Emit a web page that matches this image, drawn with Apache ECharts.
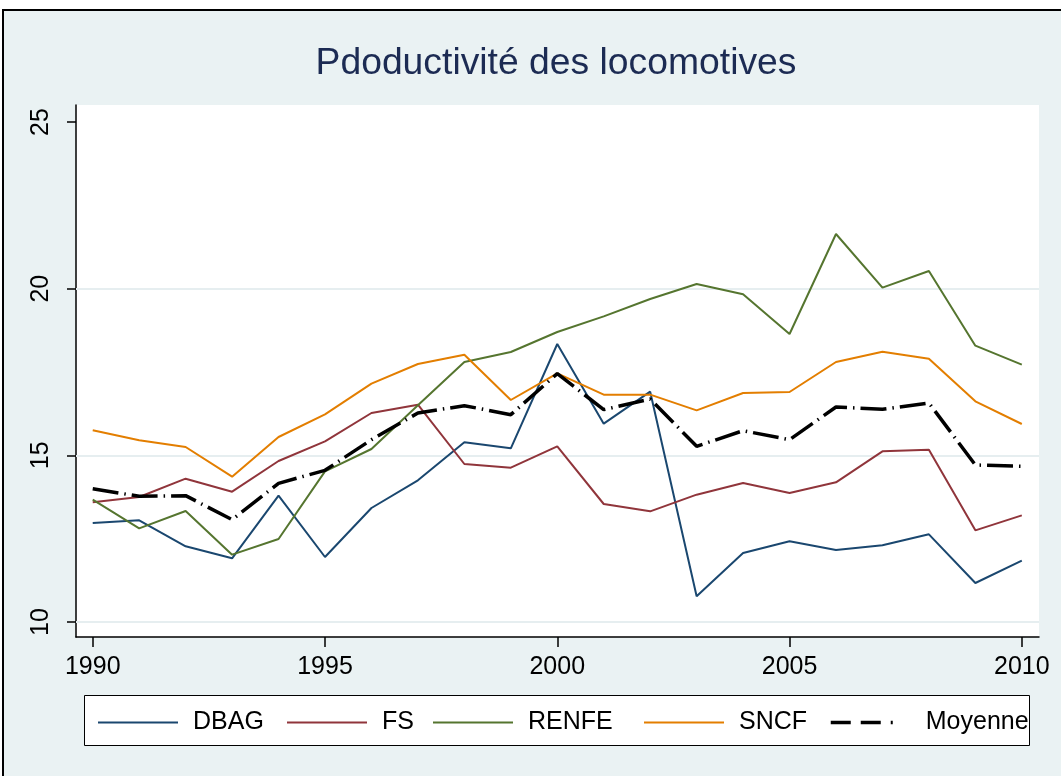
<!DOCTYPE html>
<html>
<head>
<meta charset="utf-8">
<script src="https://cdn.jsdelivr.net/npm/echarts@6/dist/echarts.min.js"></script>
<style>
html,body{margin:0;padding:0;background:#fff;}
#chart{width:1061px;height:776px;}
</style>
</head>
<body>
<div id="chart"></div>
<script>
var years = [1990,1991,1992,1993,1994,1995,1996,1997,1998,1999,2000,2001,2002,2003,2004,2005,2006,2007,2008,2009,2010];
var dbag    = [12.97,13.05,12.27,11.91,13.79,11.95,13.42,14.25,15.39,15.21,18.34,15.95,16.91,10.77,12.07,12.42,12.16,12.30,12.63,11.17,11.84];
var fs      = [13.59,13.75,14.30,13.91,14.83,15.42,16.27,16.52,14.74,14.63,15.27,13.54,13.32,13.82,14.17,13.87,14.19,15.12,15.17,12.75,13.20];
var renfe   = [13.67,12.81,13.33,12.02,12.49,14.52,15.19,16.50,17.80,18.10,18.70,19.17,19.69,20.14,19.83,18.64,21.64,20.03,20.53,18.29,17.72];
var sncf    = [15.75,15.45,15.25,14.36,15.55,16.23,17.15,17.74,18.02,16.66,17.46,16.82,16.82,16.35,16.87,16.90,17.80,18.11,17.90,16.62,15.94];
var moyenne = [14.00,13.77,13.79,13.07,14.16,14.55,15.47,16.27,16.49,16.22,17.45,16.37,16.69,15.27,15.74,15.47,16.45,16.38,16.57,14.71,14.67];
var yTicks = [10,15,20,25];
var xTicks = [1990,1995,2000,2005,2010];
var gridVals = [10,15,20];

var names  = ['DBAG','FS','RENFE','SNCF','Moyenne'];
var colors = ['#1a476f','#90353b','#55752f','#e37e00','#000000'];
var values = [dbag,fs,renfe,sncf,moyenne];
var legendLeft = [97,286,432,643,829];

function pairs(v){
	var out=[];
	for(var i=0;i<years.length;i++){
		out.push([years[i],v[i]]);
	}
	return out;
}

var font = '"Liberation Sans", Arial, Helvetica, sans-serif';
var series = [];
var legends = [];
for(var k=0;k<names.length;k++){
	var isAvg = names[k]=='Moyenne';
	var s = {
		name: names[k],
		type: 'line',
		data: pairs(values[k]),
		showSymbol: false,
		symbol: 'none',
		silent: true,
		z: isAvg ? 5 : 3,
		lineStyle: {
			color: colors[k],
			width: isAvg ? 3.5 : 2,
			type: isAvg ? [26,6,1.5,6] : 'solid',
			cap: 'butt'
		},
		itemStyle: {color: colors[k]}
	};
	if(k==0){
		// lignes de grille
		s.markLine = {
			silent: true,
			symbol: 'none',
			label: {show:false},
			lineStyle: {color:'#e6eef0', width:2, type:'solid'},
			data: gridVals.map(function(v){return {yAxis:v};}),
			z: 1
		};
	}
	series.push(s);
	legends.push({
		show: true,
		data: [names[k]],
		left: legendLeft[k],
		top: 710,
		itemWidth: 80,
		itemHeight: 14,
		itemGap: 0,
		padding: 0,
		itemStyle: {opacity: 0},
		lineStyle: isAvg ? {type:[20,10,20,10,2,18], width:3.5, cap:'butt'} : {width:2},
		textStyle: {fontFamily: font, fontSize: 25, color: '#000', padding:[0,0,0,10]},
		selectedMode: false
	});
}

var chart = echarts.init(document.getElementById('chart'));
var option = {
	animation: false,
	backgroundColor: '#ffffff',
	graphic: [
		{type:'rect', z:-10, shape:{x:3,y:10,width:1080,height:790}, style:{fill:'#eaf2f3', stroke:'#000', lineWidth:2}},
		{type:'rect', z:-5, shape:{x:84.5,y:695.5,width:945,height:50}, style:{fill:'#ffffff', stroke:'#000', lineWidth:1}}
	],
	title: {
		text: 'Pdoductivité des locomotives',
		left: 551,
		textAlign: 'center',
		top: 40,
		textStyle: {fontFamily: font, fontSize: 37.3, fontWeight: 'normal', color: '#1c2b53'}
	},
	legend: legends,
	grid: {
		left: 76, right: 22, top: 105, bottom: 139,
		show: true, backgroundColor: '#ffffff', borderWidth: 0
	},
	xAxis: {
		type: 'value',
		min: 1989.64,
		max: 2010.37,
		axisLine: {show:true, onZero:false, lineStyle:{color:'#000', width:1.5}},
		axisTick: {show:true, length:10, lineStyle:{color:'#000', width:1.5}, customValues: xTicks},
		axisLabel: {fontFamily: font, fontSize: 25, color:'#000', margin: 18, customValues: xTicks,
			formatter: function(v){return String(v);}},
		splitLine: {show:false}
	},
	yAxis: {
		type: 'value',
		min: 9.55,
		max: 25.51,
		axisLine: {show:true, lineStyle:{color:'#000', width:1.5}},
		axisTick: {show:true, length:9, lineStyle:{color:'#000', width:1.5}, customValues: yTicks},
		axisLabel: {fontFamily: font, fontSize: 25, color:'#000', rotate: 90, margin: 22, customValues: yTicks},
		splitLine: {show:false}
	},
	series: series
};
chart.setOption(option);
</script>
</body>
</html>
